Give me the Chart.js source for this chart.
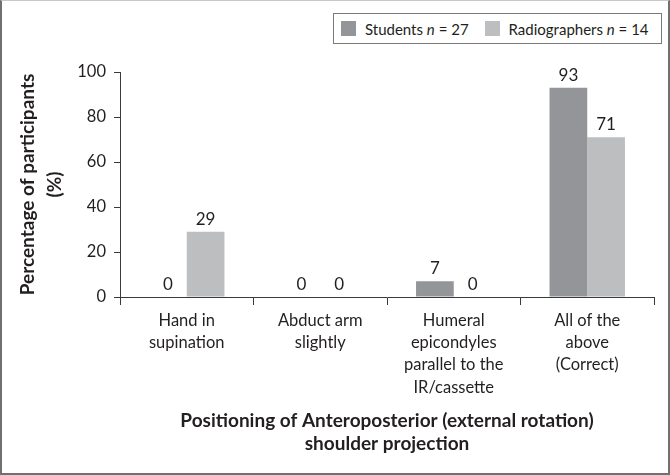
<!DOCTYPE html>
<html>
<head>
<meta charset="utf-8">
<script src="https://cdn.jsdelivr.net/npm/chart.js@4.4.1/dist/chart.umd.min.js"></script>
<style>
    body { margin: 0; background: #fff; }
    #wrap { position: relative; width: 670px; height: 475px; font-family: Lato, sans-serif; }
    #frame {
        position: absolute; left: 0; top: 0; width: 670px; height: 475px; box-sizing: border-box;
        border: 2px solid #707070; border-top: 1px solid #c8c8c8; pointer-events: none;
    }
    #legend {
        position: absolute; left: 333px; top: 13px; width: 329px; height: 31px; box-sizing: border-box;
        border: 1px solid #7a7a7a; background: #fff; font-size: 15px; color: #231f20;
        display: flex; align-items: center; padding-left: 7px;
    }
    #legend .box { display: inline-block; width: 15px; height: 15px; margin-right: 9px; }
    #legend .item { display: flex; align-items: center; margin-right: 16px; white-space: nowrap; }
</style>
</head>
<body>
<div id="wrap">
    <canvas id="responses-bar-chart"></canvas>
    <div id="legend"></div>
    <div id="frame"></div>
</div>
<script>
const categories = [
    ['Hand in', 'supination'],
    ['Abduct arm', 'slightly'],
    ['Humeral', 'epicondyles', 'parallel to the', 'IR/cassette'],
    ['All of the', 'above', '(Correct)'],
];
const students = [0, 0, 7, 93];
const radiographers = [29, 0, 0, 71];
const seriesNames = ['Students', 'Radiographers'];
const seriesN = [27, 14];
const yTicks = [0, 20, 40, 60, 80, 100];

const textColor = '#231f20';
const axisColor = '#3a3a3a';
const barColors = ['#939598', '#bcbec0'];

// value labels above each bar
const valueLabels = {
    id: 'valueLabels',
    afterDatasetsDraw(chart) {
        const ctx = chart.ctx;
        ctx.save();
        ctx.font = '17px Lato, sans-serif';
        ctx.fillStyle = textColor;
        ctx.textAlign = 'center';
        ctx.textBaseline = 'alphabetic';
        chart.data.datasets.forEach((ds, i) => {
            chart.getDatasetMeta(i).data.forEach((bar, j) => {
                ctx.fillText(String(ds.data[j]), bar.x, bar.y - 7);
            });
        });
        ctx.restore();
    }
};

function barChart() {
    const target = document.getElementById('responses-bar-chart');

    const chart = new Chart(
        target,
        {
            type: 'bar',
            options: {
                responsive: true,
                maintainAspectRatio: false,
                animation: false,
                devicePixelRatio: 1,
                layout: {
                    padding: { top: 72, right: 16, left: 0, bottom: 0 }
                },
                scales: {
                    x: {
                        afterFit: (scale) => { scale.height = 178; },
                        grid: {
                            drawOnChartArea: false,
                            offset: true,
                            tickLength: 8,
                            color: axisColor,
                        },
                        border: { color: axisColor, width: 1 },
                        ticks: {
                            color: textColor,
                            font: { family: 'Lato, sans-serif', size: 16.5, lineHeight: 1.36 },
                            padding: 4,
                            maxRotation: 0,
                            autoSkip: false,
                        },
                        title: {
                            display: true,
                            text: ['Positioning of Anteroposterior (external rotation)', 'shoulder projection'],
                            color: textColor,
                            font: { family: 'Lato, sans-serif', size: 19, weight: 'bold', lineHeight: 1.21 },
                            padding: { top: 0, bottom: 20 },
                        }
                    },
                    y: {
                        min: 0,
                        max: 100,
                        afterFit: (scale) => { scale.width = 120; },
                        afterBuildTicks: (scale) => { scale.ticks = yTicks.map(v => ({ value: v })); },
                        grid: {
                            drawOnChartArea: false,
                            tickLength: 6,
                            color: axisColor,
                        },
                        border: { color: axisColor, width: 1 },
                        ticks: {
                            color: textColor,
                            font: { family: 'Lato, sans-serif', size: 16.5 },
                            padding: 8,
                        },
                        title: {
                            display: true,
                            text: ['Percentage of participants', '(%)'],
                            color: textColor,
                            font: { family: 'Lato, sans-serif', size: 19, weight: 'bold', lineHeight: 1.42 },
                            padding: { top: 14, bottom: 0 },
                        }
                    }
                },
                plugins: {
                    legend: { display: false },
                    tooltip: { enabled: false },
                }
            },
            data: {
                labels: categories,
                datasets: [
                    {
                        label: seriesNames[0],
                        data: students,
                        backgroundColor: barColors[0],
                        barPercentage: 1,
                        categoryPercentage: .565,
                    },
                    {
                        label: seriesNames[1],
                        data: radiographers,
                        backgroundColor: barColors[1],
                        barPercentage: 1,
                        categoryPercentage: .565,
                    },
                ]
            },
            plugins: [valueLabels],
        }
    );

    // legend with italic n
    const legend = document.getElementById('legend');
    chart.data.datasets.forEach((ds, i) => {
        const item = document.createElement('span');
        item.className = 'item';
        item.innerHTML = '<span class="box" style="background:' + ds.backgroundColor + '"></span>'
            + ds.label + '&nbsp;<i>n</i>&nbsp;=&nbsp;' + seriesN[i];
        legend.appendChild(item);
    });
}

barChart();
</script>
</body>
</html>
